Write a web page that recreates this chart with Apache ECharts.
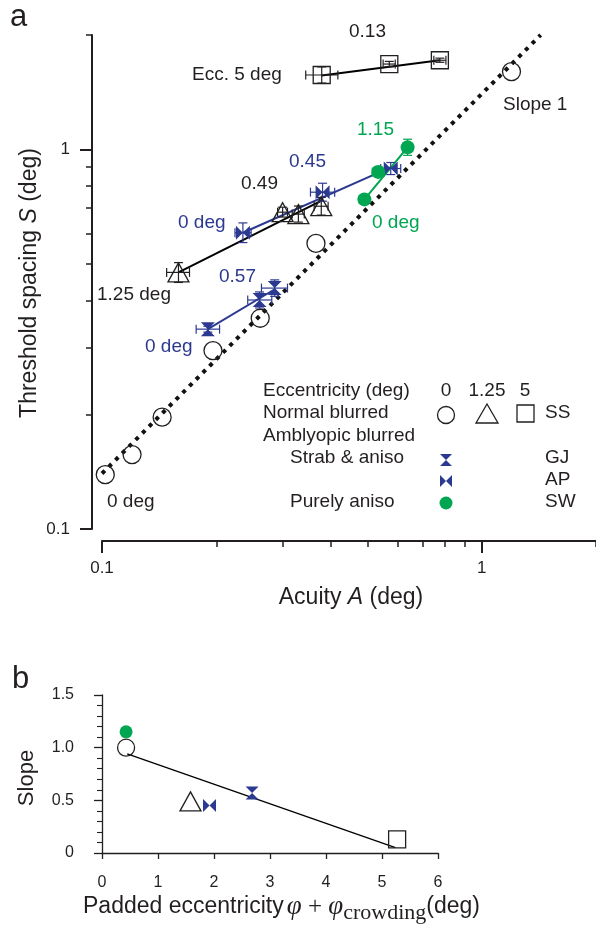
<!DOCTYPE html>
<html><head><meta charset="utf-8">
<script src="https://cdn.jsdelivr.net/npm/echarts@6/dist/echarts.min.js"></script>
<style>html,body{margin:0;padding:0;background:#fff}#c{width:596px;height:925px}</style>
</head><body><div id="c"></div>
<script>
// ---------- Panel a: acuity A (deg) vs threshold spacing S (deg) ----------
const normalA = [0.102, 0.120, 0.144, 0.196, 0.261, 0.366, 1.198];
const normalS = [0.139, 0.157, 0.197, 0.295, 0.359, 0.565, 1.602];

const ecc125A   = [0.159, 0.299, 0.329, 0.378];
const ecc125S   = [0.474, 0.683, 0.675, 0.708];
const ecc125Alo = [0.148, 0.290, 0.317, 0.362];
const ecc125Ahi = [0.170, 0.308, 0.341, 0.394];
const ecc125Slo = [0.446, 0.663, 0.643, 0.671];
const ecc125Shi = [0.503, 0.704, 0.709, 0.747];

const ecc5A   = [0.379, 0.571, 0.776];
const ecc5S   = [1.569, 1.677, 1.716];
const ecc5Alo = [0.344, 0.550, 0.748];
const ecc5Ahi = [0.418, 0.592, 0.805];
const ecc5Slo = [1.494, 1.650, 1.695];
const ecc5Shi = [1.648, 1.704, 1.738];

const apA   = [0.235, 0.381, 0.576];
const apS   = [0.603, 0.771, 0.890];
const apAlo = [0.224, 0.354, 0.542];
const apAhi = [0.247, 0.410, 0.612];
const apSlo = [0.568, 0.730, 0.858];
const apShi = [0.640, 0.814, 0.923];

const gjA   = [0.190, 0.260, 0.285];
const gjS   = [0.336, 0.401, 0.431];
const gjAlo = [0.177, 0.242, 0.263];
const gjAhi = [0.204, 0.280, 0.308];
const gjSlo = [0.330, 0.382, 0.410];
const gjShi = [0.342, 0.421, 0.453];

const swA   = [0.491, 0.534, 0.638];
const swS   = [0.738, 0.872, 1.012];
const swAlo = [0.476, 0.515, 0.619];
const swAhi = [0.506, 0.554, 0.658];
const swSlo = [0.725, 0.846, 0.964];
const swShi = [0.751, 0.899, 1.063];

// fitted lines (endpoints)
const fitEcc5A = [0.379, 0.776],  fitEcc5S = [1.564, 1.716];
const fitEcc125A = [0.159, 0.381], fitEcc125S = [0.474, 0.735];
const fitApA = [0.235, 0.583],    fitApS = [0.603, 0.902];
const fitGjA = [0.190, 0.285],    fitGjS = [0.336, 0.428];
const fitSwA = [0.491, 0.638],    fitSwS = [0.738, 1.012];
const slopeOneA = [0.1, 1.43],    slopeOneS = [0.14, 2.0];

const aMajorTicks = [0.1, 1];
const aMinorTicks = [0.2, 0.3, 0.4, 0.5, 0.6, 0.7, 0.8, 0.9, 2];

// ---------- Panel b: padded eccentricity vs slope ----------
const bNormalEcc = [0.43], bNormalSlope = [1.0];
const bTriEcc = [1.58],    bTriSlope = [0.49];
const bSqEcc = [5.27],     bSqSlope = [0.13];
const bApEcc = [1.92],     bApSlope = [0.45];
const bGjEcc = [2.68],     bGjSlope = [0.57];
const bSwEcc = [0.43],     bSwSlope = [1.15];
const bFitEcc = [0.45, 5.24], bFitSlope = [0.94, 0.05];

// ---------- styling ----------
const FONT = '"Liberation Sans", Arial, Helvetica, sans-serif';
const SERIF = '"Liberation Serif", "DejaVu Serif", serif';
const INK = '#231f20', BLUE = '#2b3990', GREEN = '#00a651';
const HG = 'path://M0,0L10,0L5,5ZM0,10L5,5L10,10Z';   // hourglass (GJ)
const BT = 'path://M0,0L5,5L0,10ZM10,0L5,5L10,10Z';   // bowtie (AP)

function pairs(xs, ys) { return xs.map((x, i) => [x, ys[i]]); }
function rows(...cols) { return cols[0].map((_, i) => cols.map(c => c[i])); }

function errSeries(data, color) {
  return {
    type: 'custom', xAxisIndex: 0, yAxisIndex: 0, data, encode: { x: 0, y: 1 }, z: 3, silent: true,
    renderItem: (p, api) => {
      const x = api.value(0), y = api.value(1);
      const c = api.coord([x, y]);
      const xl = api.coord([api.value(2), y])[0];
      const xh = api.coord([api.value(3), y])[0];
      const yl = api.coord([x, api.value(4)])[1];
      const yh = api.coord([x, api.value(5)])[1];
      const k = 4.5, st = { stroke: color, lineWidth: 1.2, fill: null };
      const L = (x1, y1, x2, y2) => ({ type: 'line', shape: { x1, y1, x2, y2 }, style: st });
      return { type: 'group', children: [
        L(xl, c[1], xh, c[1]), L(xl, c[1] - k, xl, c[1] + k), L(xh, c[1] - k, xh, c[1] + k),
        L(c[0], yl, c[0], yh), L(c[0] - k, yl, c[0] + k, yl), L(c[0] - k, yh, c[0] + k, yh)
      ] };
    }
  };
}
function pts(data, symbol, size, fill, stroke, xi) {
  return {
    type: 'scatter', xAxisIndex: xi, yAxisIndex: xi, data, symbol, symbolSize: size, z: 4, silent: true,
    itemStyle: { color: fill, borderColor: stroke || fill, borderWidth: stroke ? 1.3 : 0, opacity: 1 }
  };
}
function seg(data, color, width, xi, type) {
  return {
    type: 'line', xAxisIndex: xi, yAxisIndex: xi, data, symbol: 'none', z: 2, silent: true,
    lineStyle: { color, width, type: type || 'solid', cap: 'butt' }
  };
}
const HOLLOW = 'rgba(255,255,255,0)';
const logLabel = v => (v < 0.5 ? '0.1' : (v < 1.5 ? '1' : ''));

function T(x, y, text, color, size, align) {
  return { type: 'text', x, y, silent: true, style: {
    text, fill: color || INK, fontSize: size || 19, fontFamily: FONT,
    align: align || 'left', verticalAlign: 'middle' } };
}

const graphic = [
  T(10, 17, 'a', INK, 31),
  T(12, 679, 'b', INK, 31),
  // annotations panel a
  T(349, 32, '0.13'),
  T(192, 75, 'Ecc. 5 deg'),
  T(503, 105, 'Slope 1'),
  T(357, 130, '1.15', GREEN),
  T(289, 162, '0.45', BLUE),
  T(241, 184, '0.49'),
  T(178, 223, '0 deg', BLUE),
  T(372, 223, '0 deg', GREEN),
  T(97, 295, '1.25 deg'),
  T(219, 277, '0.57', BLUE),
  T(145, 347, '0 deg', BLUE),
  T(107, 502, '0 deg'),
  // legend
  T(263, 391, 'Eccentricity (deg)'),
  T(446, 391, '0', INK, 19, 'center'),
  T(487, 391, '1.25', INK, 19, 'center'),
  T(525, 391, '5', INK, 19, 'center'),
  T(263, 413, 'Normal blurred'),
  { type: 'circle', shape: { cx: 446, cy: 415, r: 8.5 }, style: { fill: 'none', stroke: INK, lineWidth: 1.3 } },
  { type: 'polygon', shape: { points: [[476, 423], [498, 423], [487, 404]] }, style: { fill: 'none', stroke: INK, lineWidth: 1.3 } },
  { type: 'rect', shape: { x: 517, y: 405, width: 17, height: 17 }, style: { fill: 'none', stroke: INK, lineWidth: 1.3 } },
  T(545, 413, 'SS'),
  T(263, 436, 'Amblyopic blurred'),
  T(290, 458, 'Strab & aniso'),
  { type: 'polygon', shape: { points: [[440, 454], [452, 454], [446, 460], [452, 466], [440, 466], [446, 460]] }, style: { fill: BLUE } },
  T(545, 458, 'GJ'),
  { type: 'polygon', shape: { points: [[440, 475], [446, 481], [452, 475], [452, 487], [446, 481], [440, 487]] }, style: { fill: BLUE } },
  T(545, 480, 'AP'),
  T(290, 502, 'Purely aniso'),
  { type: 'circle', shape: { cx: 446, cy: 503, r: 6.5 }, style: { fill: GREEN } },
  T(545, 502, 'SW'),
  // axis titles
  { type: 'text', x: 30, y: 283, rotation: Math.PI / 2, silent: true, style: {
    text: 'Threshold spacing {i|S} (deg)', fill: INK, fontSize: 23, fontFamily: FONT,
    align: 'center', verticalAlign: 'middle',
    rich: { i: { fontStyle: 'italic', fontSize: 23, fontFamily: FONT, fill: INK } } } },
  { type: 'text', x: 351, y: 598, silent: true, style: {
    text: 'Acuity {i|A} (deg)', fill: INK, fontSize: 23, fontFamily: FONT,
    align: 'center', verticalAlign: 'middle',
    rich: { i: { fontStyle: 'italic', fontSize: 23, fontFamily: FONT, fill: INK } } } },
  { type: 'text', x: 27, y: 778, rotation: Math.PI / 2, silent: true, style: {
    text: 'Slope', fill: INK, fontSize: 22, fontFamily: FONT, align: 'center', verticalAlign: 'middle' } },
  { type: 'text', x: 83, y: 907, silent: true, style: {
    text: 'Padded eccentricity{m1|φ}{p| + }{m|φ}{s|crowding}{n|(deg)}', fill: INK, fontSize: 23, fontFamily: FONT,
    align: 'left', verticalAlign: 'middle',
    rich: {
      m1: { fontFamily: SERIF, fontStyle: 'italic', fontSize: 27, fill: INK, padding: [0, 0, 0, 3] },
      m: { fontFamily: SERIF, fontStyle: 'italic', fontSize: 27, fill: INK },
      p: { fontFamily: SERIF, fontSize: 25, fill: INK },
      s: { fontFamily: SERIF, fontSize: 22, fill: INK, padding: [12, 0, 0, 0] },
      n: { fontFamily: FONT, fontSize: 23, fill: INK }
    } } }
];

const chart = echarts.init(document.getElementById('c'), null, { renderer: 'canvas', width: 596, height: 925 });
chart.setOption({
  animation: false,
  backgroundColor: '#fff',
  grid: [
    { left: 102, top: 35, width: 494, height: 494, containLabel: false, outerBoundsMode: 'none' },
    { left: 102, top: 695, width: 336, height: 158, containLabel: false, outerBoundsMode: 'none' }
  ],
  xAxis: [
    { gridIndex: 0, type: 'log', logBase: 10, min: 0.1, max: 2, offset: 12, position: 'bottom',
      axisLine: { show: true, lineStyle: { color: INK, width: 2 } },
      axisTick: { show: true, customValues: aMajorTicks, length: 12, lineStyle: { color: INK, width: 2 } },
      axisLabel: { customValues: aMajorTicks, formatter: logLabel, fontSize: 17, color: INK, fontFamily: FONT, margin: 19 },
      splitLine: { show: false } },
    { gridIndex: 0, type: 'log', logBase: 10, min: 0.1, max: 2, offset: 12, position: 'bottom',
      axisLine: { show: false },
      axisTick: { show: true, customValues: aMinorTicks, length: 6, lineStyle: { color: INK, width: 1.5 } },
      axisLabel: { show: false }, splitLine: { show: false } },
    { gridIndex: 1, type: 'value', min: 0, max: 6, interval: 1, offset: 12, position: 'bottom',
      axisLine: { show: true, lineStyle: { color: INK, width: 1.3 } },
      axisTick: { show: true, length: 6, lineStyle: { color: INK, width: 1.3 } },
      axisLabel: { fontSize: 16, color: INK, fontFamily: FONT, margin: 10 },
      splitLine: { show: false } }
  ],
  yAxis: [
    { gridIndex: 0, type: 'log', logBase: 10, min: 0.1, max: 2, offset: 10, position: 'left',
      axisLine: { show: true, lineStyle: { color: INK, width: 2 } },
      axisTick: { show: true, customValues: aMajorTicks, length: 12, lineStyle: { color: INK, width: 2 } },
      axisLabel: { customValues: aMajorTicks, formatter: logLabel, fontSize: 17, color: INK, fontFamily: FONT, margin: 22 },
      splitLine: { show: false } },
    { gridIndex: 0, type: 'log', logBase: 10, min: 0.1, max: 2, offset: 10, position: 'left',
      axisLine: { show: false },
      axisTick: { show: true, customValues: aMinorTicks, length: 6, lineStyle: { color: INK, width: 1.5 } },
      axisLabel: { show: false }, splitLine: { show: false } },
    { gridIndex: 1, type: 'value', min: 0, max: 1.5, interval: 0.5, offset: 11, position: 'left',
      axisLine: { show: true, lineStyle: { color: INK, width: 1.3 } },
      axisTick: { show: true, length: 8, lineStyle: { color: INK, width: 1.3 } },
      minorTick: { show: true, splitNumber: 5, length: 5, lineStyle: { color: INK, width: 1.1 } },
      axisLabel: { fontSize: 16, color: INK, fontFamily: FONT, margin: 17, formatter: v => (v === 0 ? '0' : v.toFixed(1)) },
      splitLine: { show: false } }
  ],
  graphic,
  series: [
    // panel a
    seg(pairs(slopeOneA, slopeOneS), '#111', 4, 0, [4, 5.5]),
    seg(pairs(fitEcc5A, fitEcc5S), '#000', 2, 0),
    seg(pairs(fitEcc125A, fitEcc125S), '#000', 2, 0),
    seg(pairs(fitApA, fitApS), BLUE, 2, 0),
    seg(pairs(fitGjA, fitGjS), BLUE, 2, 0),
    seg(pairs(fitSwA, fitSwS), GREEN, 2, 0),
    errSeries(rows(ecc5A, ecc5S, ecc5Alo, ecc5Ahi, ecc5Slo, ecc5Shi), INK),
    errSeries(rows(ecc125A, ecc125S, ecc125Alo, ecc125Ahi, ecc125Slo, ecc125Shi), INK),
    errSeries(rows(apA, apS, apAlo, apAhi, apSlo, apShi), BLUE),
    errSeries(rows(gjA, gjS, gjAlo, gjAhi, gjSlo, gjShi), BLUE),
    errSeries(rows(swA, swS, swAlo, swAhi, swSlo, swShi), GREEN),
    pts(pairs(normalA, normalS), 'circle', 18, HOLLOW, INK, 0),
    pts(pairs(ecc125A, ecc125S), 'triangle', [21, 19], HOLLOW, INK, 0),
    pts(pairs(ecc5A, ecc5S), 'rect', 17, HOLLOW, INK, 0),
    pts(pairs(apA, apS), BT, 14, BLUE, null, 0),
    pts(pairs(gjA, gjS), HG, 14, BLUE, null, 0),
    pts(pairs(swA, swS), 'circle', 14, GREEN, null, 0),
    // panel b (axis index 2)
    seg(pairs(bFitEcc, bFitSlope), '#000', 1.3, 2),
    pts(pairs(bSwEcc, bSwSlope), 'circle', 13, GREEN, null, 2),
    pts(pairs(bNormalEcc, bNormalSlope), 'circle', 17, HOLLOW, INK, 2),
    pts(pairs(bTriEcc, bTriSlope), 'triangle', [21, 19], HOLLOW, INK, 2),
    pts(pairs(bSqEcc, bSqSlope), 'rect', 17, HOLLOW, INK, 2),
    pts(pairs(bApEcc, bApSlope), BT, 13, BLUE, null, 2),
    pts(pairs(bGjEcc, bGjSlope), HG, 13, BLUE, null, 2)
  ]
});
</script>
</body></html>
